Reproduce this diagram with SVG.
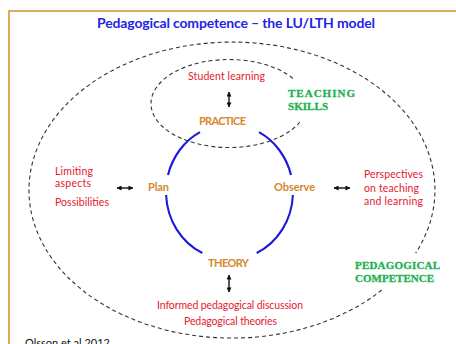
<svg xmlns="http://www.w3.org/2000/svg" width="456" height="344" viewBox="0 0 456 344">
  <defs>
    <marker id="tip" viewBox="0 0 6 6" refX="5.5" refY="3" markerWidth="5" markerHeight="5" markerUnits="userSpaceOnUse" orient="auto-start-reverse">
      <path d="M0,0 L6,3 L0,6 z" fill="#111"/>
    </marker>
    <style>
      .frame { fill: #fff; stroke: #d4902c; stroke-width: 1.5; }
      .dash { fill: none; stroke: #333; stroke-width: 1.1; stroke-dasharray: 4 3; }
      .cycle { fill: none; stroke: #1c1cd6; stroke-width: 2.1; }
      .arrow { stroke: #111; stroke-width: 1.4; marker-start: url(#tip); marker-end: url(#tip); }
      text { font-family: Lato, "Liberation Sans", sans-serif; }
      .title { font-size: 14px; font-weight: bold; fill: #2424e6; }
      .red { font-size: 10.5px; fill: #e4202e; }
      .stage { font-size: 11px; font-weight: bold; fill: #d4882a; }
      .green { font-family: "Liberation Serif", "DejaVu Serif", serif; font-size: 11px; font-weight: bold; fill: #22b150; stroke: #22b150; stroke-width: 0.3; }
      .cite { font-size: 11px; fill: #111; }
    </style>
  </defs>

  <!-- slide frame -->
  <rect class="frame" x="9" y="11" width="460" height="350"/>
  <text class="title" x="236" y="28" text-anchor="middle" textLength="278">Pedagogical competence – the LU/LTH model</text>

  <!-- dashed boundaries -->
  <g id="pedagogical-competence-boundary">
    <path class="dash" d="M381.7,290 A203,148 0 1 1 415.7,253"/>
  </g>
  <g id="teaching-skills-boundary">
    <path class="dash" d="M299.8,122 A78,44 0 1 1 294.9,80"/>
  </g>

  <!-- practice/theory cycle -->
  <g id="cycle">
    <path class="cycle" d="M200,132.2 A63.5,67.5 0 0 0 168,175"/>
    <path class="cycle" d="M166.1,195 A63.5,67.5 0 0 0 202.3,253"/>
    <path class="cycle" d="M256.7,253 A63.5,67.5 0 0 0 292.9,195"/>
    <path class="cycle" d="M291,175 A63.5,67.5 0 0 0 259,132.2"/>
  </g>

  <g id="connectors">
    <line class="arrow" x1="229" y1="92" x2="229" y2="107"/>
    <line class="arrow" x1="229" y1="275" x2="229" y2="292"/>
    <line class="arrow" x1="117" y1="188" x2="133" y2="188"/>
    <line class="arrow" x1="334" y1="188" x2="350" y2="188"/>
  </g>

  <g id="student-learning">
    <text class="red" x="226.5" y="80" text-anchor="middle" textLength="77">Student learning</text>
  </g>
  <g id="practice">
    <text class="stage" x="222.5" y="125" text-anchor="middle" textLength="47">PRACTICE</text>
  </g>
  <g id="teaching-skills">
    <text class="green" x="288" y="97" textLength="67">TEACHING</text>
    <text class="green" x="288" y="110" textLength="40">SKILLS</text>
  </g>
  <g id="plan">
    <text class="stage" x="148" y="191" textLength="21">Plan</text>
  </g>
  <g id="observe">
    <text class="stage" x="274" y="191" textLength="41">Observe</text>
  </g>
  <g id="limiting-aspects">
    <text class="red" x="55" y="175" textLength="38">Limiting</text>
    <text class="red" x="55" y="187" textLength="36">aspects</text>
    <text class="red" x="55" y="206" textLength="54">Possibilities</text>
  </g>
  <g id="perspectives">
    <text class="red" x="364" y="178" textLength="59">Perspectives</text>
    <text class="red" x="364" y="191.5" textLength="55">on teaching</text>
    <text class="red" x="364" y="205" textLength="59">and learning</text>
  </g>
  <g id="theory">
    <text class="stage" x="228.5" y="267" text-anchor="middle" textLength="41">THEORY</text>
  </g>
  <g id="pedagogical-discussion">
    <text class="red" x="230" y="309" text-anchor="middle" textLength="146">Informed pedagogical discussion</text>
    <text class="red" x="230.5" y="325" text-anchor="middle" textLength="93">Pedagogical theories</text>
  </g>
  <g id="pedagogical-competence">
    <text class="green" x="355" y="269" textLength="85">PEDAGOGICAL</text>
    <text class="green" x="355" y="282" textLength="79">COMPETENCE</text>
  </g>

  <text class="cite" x="25" y="346.5" textLength="85">Olsson et al 2012</text>
</svg>
